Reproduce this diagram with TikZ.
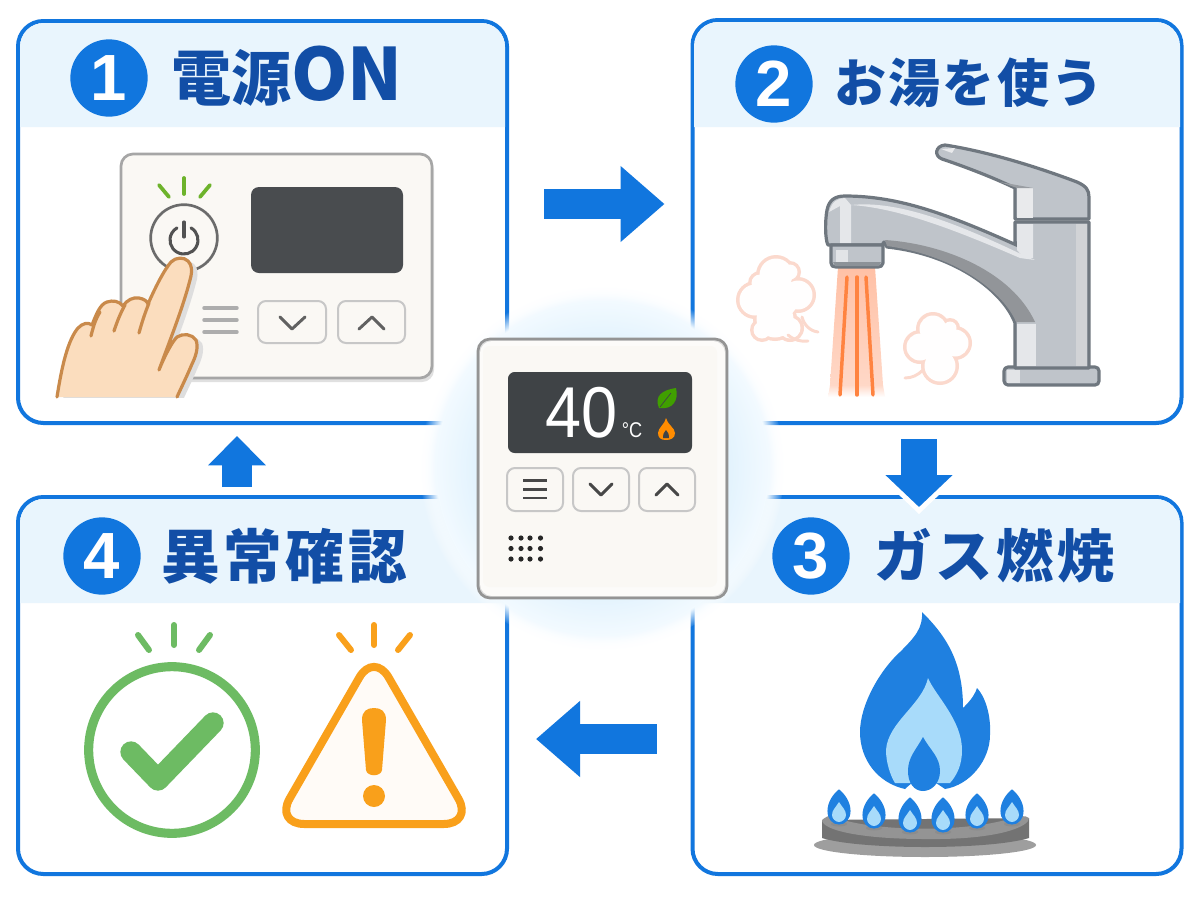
\documentclass[tikz,border=0pt]{standalone}
\usepackage{fontspec}
\setmainfont{Liberation Sans}
\newfontfamily\jpfont{Noto Sans CJK JP}
\usetikzlibrary{arrows.meta,calc,fadings,shadings}
\definecolor{frameblue}{HTML}{1176DE}
\definecolor{bandblue}{HTML}{E9F5FD}
\definecolor{inkblue}{HTML}{124EA6}
\definecolor{shell}{HTML}{FAF8F4}
\definecolor{lcd}{HTML}{3F4346}
\definecolor{skin}{HTML}{FBDDBE}
\definecolor{skinline}{HTML}{C98A4B}
\definecolor{steel}{HTML}{BFC4CA}
\definecolor{steelline}{HTML}{6F777F}
\definecolor{steam}{HTML}{FBD9CD}
\definecolor{flame}{HTML}{1F80E0}
\definecolor{flamelight}{HTML}{A8DBFA}
\definecolor{okgreen}{HTML}{6DBB63}
\definecolor{warn}{HTML}{F9A01B}
\definecolor{spark}{HTML}{6DB32B}
% soft tint and mask of the glow behind the central controller (25bp is the rim)
\pgfdeclareradialshading{glowtint}{\pgfpointorigin}{rgb(0bp)=(0.875,0.945,0.99); rgb(17bp)=(0.885,0.95,0.992); rgb(23bp)=(0.95,0.98,1); rgb(25bp)=(1,1,1); rgb(50bp)=(1,1,1)}
\pgfdeclareradialshading{glowmaskshade}{\pgfpointorigin}{color(0bp)=(white); color(22.8bp)=(white); color(25bp)=(black); color(50bp)=(black)}
\pgfdeclarefading{glowmask}{\pgfuseshading{glowmaskshade}}
\tikzset{
  panel/.style={draw=frameblue,line width=3pt,fill=white,rounded corners=19pt,inner sep=0pt,minimum width=366.75pt},
  band/.style={fill=bandblue},
  badge/.style={circle,fill=frameblue,text=white,inner sep=0pt,minimum size=58pt,font=\fontsize{49}{49}\selectfont\bfseries},
  headline/.style={anchor=base west,text=inkblue,inner sep=0pt},
  flow/.style={draw=frameblue,line width=22pt,-{Triangle[length=33pt,width=55pt]}},
  softkey/.style={fill=#1,draw=black!22,line width=1.5pt,rounded corners=6pt},
  chevron/.style={draw=#1,line width=2.2pt,line cap=round,line join=round},
  ray/.style={draw=#1,line cap=round},
  puff/.style={fill=steam},
  puffin/.style={fill=white!97!steam},
  wisp/.style={draw=steam,line width=2.2pt,line cap=round},
  chrome/.style={draw=steelline,line width=2.4pt,line join=round,fill=steel},
}
% hand outline pressing the power key
\newcommand{\handoutline}{(57,397) .. controls (62,365) and (68,340) .. (78,328)
  .. controls (83,323) and (88,322) .. (92,325)
  .. controls (96,315) and (100,304) .. (107,302)
  .. controls (113,300) and (119,301) .. (123,306)
  .. controls (127,300) and (133,297) .. (139,298)
  .. controls (144,299) and (147,301) .. (148,304)
  .. controls (155,288) and (164,270) .. (171,262)
  .. controls (176,257) and (184,257) .. (188,261)
  .. controls (192,265) and (192,271) .. (191,276)
  .. controls (184,305) and (170,340) .. (159,370)
  .. controls (165,355) and (172,342) .. (177,337)
  .. controls (183,333) and (192,334) .. (196,340)
  .. controls (199,348) and (195,358) .. (192,364)
  .. controls (187,376) and (182,386) .. (177,397)}
% one small burner flame, given its x and the y of its tip
\newcommand{\jet}[2]{%
  \fill[black!45] (#1,#2+35) ellipse (8 and 2.5);
  \filldraw[fill=flame,draw=flame,line width=0.8pt,line join=round] (#1,#2+1) .. controls (#1+5,#2+5) and (#1+11,#2+13) .. (#1+11,#2+22)
    .. controls (#1+11,#2+30) and (#1+6,#2+35) .. (#1,#2+35)
    .. controls (#1-6,#2+35) and (#1-11,#2+30) .. (#1-11,#2+22)
    .. controls (#1-11,#2+13) and (#1-5,#2+5) .. (#1,#2+1) -- cycle;
  \fill[flamelight] (#1,#2+13) .. controls (#1+3,#2+18) and (#1+7,#2+21) .. (#1+7,#2+26)
    .. controls (#1+7,#2+30) and (#1+3,#2+33) .. (#1,#2+33)
    .. controls (#1-3,#2+33) and (#1-7,#2+30) .. (#1-7,#2+26)
    .. controls (#1-7,#2+21) and (#1-3,#2+18) .. (#1,#2+13) -- cycle;
}
\begin{document}
\begin{tikzpicture}[x=0.75pt,y=-0.75pt]
\useasboundingbox (0,0) rectangle (1200,900);
\fill[white] (0,0) rectangle (1200,900);

% the four step panels
\node[panel,minimum height=301.5pt] (p1) at (262.5,222) {};
\node[panel,minimum height=302.25pt] (p2) at (937,221.5) {};
\node[panel,minimum height=282.75pt] (p3) at (937,685.5) {};
\node[panel,minimum height=282.75pt] (p4) at (262.5,685.5) {};
\fill[band] (20,127) [rounded corners=18pt] -- (20,23) -- (505,23) [sharp corners] -- (505,127) -- cycle;
\fill[band] (694,127) [rounded corners=18pt] -- (694,22) -- (1180,22) [sharp corners] -- (1180,127) -- cycle;
\fill[band] (694,603) [rounded corners=18pt] -- (694,499) -- (1180,499) [sharp corners] -- (1180,603) -- cycle;
\fill[band] (20,603) [rounded corners=18pt] -- (20,499) -- (505,499) [sharp corners] -- (505,603) -- cycle;

% panel titles
\node[badge] (n1) at (109,78) {1};
\node[badge] (n2) at (774,84) {2};
\node[badge] (n3) at (811,556) {3};
\node[badge] (n4) at (102,556) {4};
\node[headline,font=\jpfont\bfseries\fontsize{45}{45}\selectfont] (t1) at (171,100) {電源\fontsize{54}{54}\selectfont ON};
\node[headline,font=\jpfont\bfseries\fontsize{39}{39}\selectfont] (t2) at (834,102) {お\kern1.7pt湯\kern1.7pt を\kern1.7pt使\kern1.7pt う};
\node[headline,font=\jpfont\bfseries\fontsize{43}{43}\selectfont] (t3) at (874,577) {ガ\kern2.7pt ス\kern2.7pt 燃\kern2.7pt 焼};
\node[headline,font=\jpfont\bfseries\fontsize{44}{44}\selectfont] (t4) at (161,578) {異\kern2.7pt 常\kern2.7pt 確\kern2.7pt 認};

% step arrows between the panels
\coordinate (s12) at ($(p1.east)+(35,-18)$);
\coordinate (e12) at ($(p2.west)+(-26,-17.5)$);
\coordinate (s23) at (919,439);
\coordinate (e23) at (919,507);
\coordinate (s34) at ($(p3.west)+(-34,53.5)$);
\coordinate (e34) at ($(p4.east)+(27,53.5)$);
\coordinate (s41) at (237,487);
\coordinate (e41) at (237,436);
\draw[flow] (s12) -- (e12);
\draw[flow] (s34) -- (e34);
\fill[white] (896,492) -- (942,492) -- (919,514) -- cycle;
\draw[flow,line width=27pt,-{Triangle[length=24pt,width=49pt]}] (s23) -- (e23);
\draw[flow,-{Triangle[length=22pt,width=42pt]}] (s41) -- (e41);

% ---- step 1: wall controller and finger ----
\fill[black!12,rounded corners=9pt] (121,158) rectangle (434,382);
\fill[shell,draw=black!35,line width=2pt,rounded corners=9pt] (121,154) rectangle (432,378);
\fill[lcd!95!white,rounded corners=6pt] (251,187) rectangle (403,273);
\foreach \a/\b/\c/\d in {184/178/184/194,159/185/169/197,210/185/200/197}
  \draw[ray=spark,line width=2.8pt] (\a,\b) -- (\c,\d);
\node[circle,draw=black!58,fill=shell,line width=2pt,minimum size=50pt,inner sep=0pt] (pw) at (184,238) {};
\draw[black!68,line width=2.3pt,line cap=round] (191,227.9) arc[start angle=-60,end angle=240,radius=14];
\draw[black!68,line width=2.3pt,line cap=round] (184,222) -- (184,237);
\foreach \y in {308,320,332} \draw[ray=black!32,line width=2.6pt] (204,\y) -- (237,\y);
\draw[softkey=shell] (258,301) rectangle (326,343);
\draw[softkey=shell] (338,301) rectangle (405,343);
\draw[chevron=black!62] (280,317) -- (292,329) -- (305,317);
\draw[chevron=black!62] (359,329) -- (372,317) -- (384,329);
\begin{scope}
  \clip (40,240) rectangle (440,397);
  \fill[black!13,shift={(6,3)}] \handoutline -- cycle;
\end{scope}
\fill[skin] \handoutline -- cycle;
\draw[skinline,line width=2.4pt,line join=round,line cap=round] \handoutline;
\draw[skinline,line width=2.4pt,line cap=round] (91,336) .. controls (93,328) and (95,320) .. (100,312);
\draw[skinline,line width=2.4pt,line cap=round] (114,331) .. controls (117,322) and (120,314) .. (125,305);
\draw[skinline,line width=2.4pt,line cap=round] (139,333) .. controls (142,322) and (145,313) .. (149,303);

% ---- step 2: faucet, water and steam ----
\foreach \cx/\cy/\r in {776/275/20,755/300/19,798/295/18,775/319/22,790/272/11,760/283/12,762/330/12,790/328/14}
  \fill[puff] (\cx,\cy) circle (\r);
\foreach \cx/\cy/\r in {776/275/20,755/300/19,798/295/18,775/319/22,790/272/11,760/283/12,762/330/12,790/328/14,777/298/25}
  \fill[puffin] (\cx,\cy) circle (\r-3.5);
\draw[wisp] (802,317) .. controls (804,325) and (810,331) .. (818,332);
\draw[wisp] (788,335) .. controls (794,340) and (801,342) .. (808,341);
\foreach \cx/\cy/\r in {933/329/17,920/347/17,955/343/17,940/366/19,950/328/10}
  \fill[puff] (\cx,\cy) circle (\r);
\foreach \cx/\cy/\r in {933/329/17,920/347/17,955/343/17,940/366/19,950/328/10,937/347/20}
  \fill[puffin] (\cx,\cy) circle (\r-3.5);
\draw[wisp] (905,378) .. controls (912,378) and (918,375) .. (923,370);

\shade[top color=orange!60!red!35,bottom color=orange!60!red!22] (838,267) -- (875,267) -- (883,385) -- (830,385) -- cycle;
\shade[top color=orange!60!red!22,bottom color=white] (830,385) -- (883,385) -- (885,397) -- (828,397) -- cycle;
\foreach \a/\b in {847/840,857/857,866/873}
  \draw[orange!70!red!75,line width=2.6pt,line cap=round] (\a,277) -- (\b,395);

% faucet handle
\path[chrome] (1015,219) -- (1015,188) .. controls (990,176) and (960,165) .. (942,159)
  .. controls (934,156) and (935,146) .. (945,145) .. controls (990,152) and (1040,168) .. (1077,182)
  .. controls (1086,186) and (1089,190) .. (1089,197) -- (1089,219) -- cycle;
\fill[white!65!steel] (1017,188) rectangle (1033,218);
\fill[steel!80!black] (1000,182) -- (1033,188) -- (1017,188) -- cycle;
\fill[white!65!steel] (941,149) -- (955,148) -- (952,153) -- cycle;
% base plate
\path[chrome,rounded corners=3pt] (1004,367) rectangle (1099,385);
\fill[white!55!steel] (1007,370) rectangle (1020,383);
% body and spout
\path[chrome] (1089,222) -- (1089,368) -- (1015,368) -- (1015,323)
  .. controls (1005,295) and (960,255) .. (887,247) -- (884,242) -- (882,245) -- (828,245)
  .. controls (825,240) and (825,220) .. (827,210) .. controls (829,200) and (835,196) .. (845,196)
  .. controls (900,196) and (950,215) .. (1023,248) -- (1015,242) -- (1015,222) -- cycle;
\fill[white!60!steel] (1017,224) -- (1033,224) -- (1033,258) -- (1024,258) -- (1017,250) -- cycle;
\fill[white!60!steel] (1017,324) rectangle (1036,366);
\fill[white!45!steel!95!black] (1076,224) rectangle (1087,366);
\fill[white!60!steel] (851,205) .. controls (900,200) and (960,225) .. (1023,255) -- (1035,260) -- (1020,258)
  .. controls (960,232) and (900,208) .. (851,205) -- cycle;
\fill[white!60!steel] (829,212) .. controls (832,201) and (838,198) .. (845,198) -- (851,205) -- (851,243) -- (840,243) -- (840,206) -- cycle;
\fill[steel!70!black!90] (885,240) .. controls (945,244) and (1012,272) .. (1035,322) -- (1016,322)
  .. controls (1005,295) and (960,256) .. (887,246) -- cycle;
\path[chrome] (831,245) -- (883,245) -- (883,263) .. controls (883,266) and (880,267) .. (878,267) -- (836,267)
  .. controls (833,267) and (831,266) .. (831,263) -- cycle;
\fill[white!55!steel] (836,250) rectangle (848,263);
\fill[steelline!80] (833,262) -- (881,262) -- (879,266) -- (835,266) -- cycle;

% ---- step 3: gas flame on a burner ring ----
\fill[flame] (922,612) .. controls (945,635) and (963,660) .. (963,708)
  .. controls (968,703) and (974,697) .. (977,688) .. controls (988,700) and (991,722) .. (990,735)
  .. controls (990,760) and (970,785) .. (945,789) .. controls (925,775) and (920,775) .. (905,789)
  .. controls (878,783) and (860,760) .. (860,732) .. controls (860,705) and (880,670) .. (900,652)
  .. controls (915,637) and (923,628) .. (922,612) -- cycle;
\fill[flamelight] (928,678) .. controls (935,695) and (962,720) .. (962,750)
  .. controls (962,765) and (957,775) .. (950,783) -- (895,783)
  .. controls (890,775) and (886,762) .. (886,750) .. controls (888,722) and (922,705) .. (928,678) -- cycle;
\fill[flame] (923,737) .. controls (930,750) and (940,757) .. (940,771)
  .. controls (940,783) and (932,791) .. (923,791) .. controls (914,791) and (908,783) .. (908,771)
  .. controls (908,757) and (916,750) .. (923,737) -- cycle;
\fill[black!38] (925,845) ellipse (111 and 12);
\fill[black!55] (822,820) -- (822,838) .. controls (860,850) and (990,850) .. (1029,838) -- (1029,818) -- cycle;
\fill[black!42] (822,820) .. controls (830,813) and (835,816) .. (840,819) .. controls (880,832) and (970,832) .. (1012,818)
  .. controls (1020,816) and (1025,815) .. (1029,818) .. controls (1030,826) and (1000,840) .. (925,839)
  .. controls (860,839) and (822,830) .. (822,820) -- cycle;
\jet{839}{789}\jet{874}{793}\jet{910}{797}\jet{943}{797}\jet{977}{793}\jet{1012}{789}

% ---- step 4: status check marks ----
\node[circle,draw=okgreen,line width=6.8pt,minimum size=125pt,inner sep=0pt] (okring) at (172,750) {};
\draw[okgreen,line width=16pt,line cap=round,line join=round] (131,752) -- (158,780) -- (213,723);
\foreach \a/\b/\c/\d in {138/635/149/650,174/625/174/645,210/635/199/650}
  \draw[ray=okgreen,line width=4.5pt] (\a,\b) -- (\c,\d);
\filldraw[rounded corners=22pt,fill=orange!3,draw=warn,line width=6pt,line join=round] (374,652) -- (473,824) -- (275,824) -- cycle;
\fill[warn] (362,720) .. controls (362,711) and (367,708) .. (374,708) .. controls (381,708) and (386,711) .. (386,720)
  -- (382,770) .. controls (381,777) and (367,777) .. (366,770) -- cycle;
\fill[warn] (374,796) circle (11);
\foreach \a/\b/\c/\d in {339/635/351/650,374/625/374/645,410/635/398/650}
  \draw[ray=warn,line width=4.5pt] (\a,\b) -- (\c,\d);

% glow behind the central controller
\shade[shading=glowtint,path fading=glowmask] (602,468) circle (182);

% ---- central controller ----
\fill[black!14,rounded corners=9pt] (478,339) rectangle (727,598);
\fill[shell!50!white,rounded corners=9pt] (480,341) rectangle (725,596);
\fill[shell,rounded corners=5pt] (483,346) rectangle (717,587);
\draw[black!42,line width=2pt,rounded corners=9pt] (478,339) rectangle (727,598);
\fill[lcd,rounded corners=5pt] (508,372) rectangle (692,453);
\node[text=white,inner sep=0pt,xscale=0.9,font=\fontsize{54}{54}\selectfont] (temp) at (581.5,413) {40};
\node[text=white,inner sep=0pt,xscale=0.85,font=\fontsize{16}{16}\selectfont] (unit) at (632,430) {°C};
\fill[green!50!black!75!yellow] (659,408) .. controls (654,396) and (662,390) .. (676,388)
  .. controls (679,400) and (673,410) .. (659,408) -- cycle;
\draw[lcd,line width=0.5pt] (660,407) -- (671,393);
\fill[orange!90!yellow] (666,418) .. controls (667,424) and (675,428) .. (675,433)
  .. controls (675,438) and (671,440) .. (666,440) .. controls (661,440) and (658,438) .. (658,433)
  .. controls (658,428) and (665,424) .. (666,418) -- cycle;
\fill[lcd] (666,430) .. controls (668,433) and (670,435) .. (669,438) -- (663,438) .. controls (662,435) and (664,433) .. (666,430) -- cycle;
\draw[softkey=shell] (507,468) rectangle (563,511);
\draw[softkey=shell] (573,468) rectangle (629,511);
\draw[softkey=shell] (639,468) rectangle (695,511);
\foreach \y in {480.5,489.5,498} \draw[black!72,line width=1.6pt] (523,\y) -- (547,\y);
\draw[chevron=black!72] (590,484) -- (601,495) -- (612,484);
\draw[chevron=black!72] (656,495) -- (667,484) -- (678,495);
\foreach \x in {511,521,530,540.5}
  \foreach \y in {538,548.5,559}
    \fill[black!85] (\x,\y) circle (2.6);
\end{tikzpicture}
\end{document}
